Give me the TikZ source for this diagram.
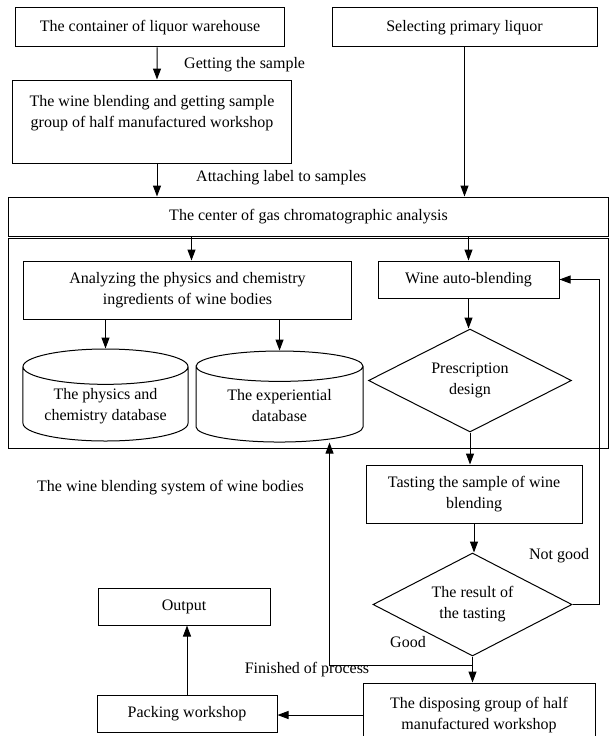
\documentclass[tikz,border=0pt]{standalone}
\usepackage{fontspec}
\setmainfont{Liberation Serif}
\usepackage{tikz}
\usetikzlibrary{shapes.geometric, arrows.meta, positioning, fit}
\newcommand{\flowfont}{\fontsize{16bp}{21bp}\selectfont}
\tikzstyle{module} = [rectangle, draw=black, line width=1bp, align=center, inner sep=2bp, font=\flowfont]
\tikzstyle{data} = [cylinder, shape border rotate=90, aspect=0.28, draw=black, line width=1bp, align=center, inner sep=2bp, font=\flowfont]
\tikzstyle{decision} = [diamond, aspect=2, draw=black, line width=1bp, align=center, inner sep=0pt, font=\flowfont]
\tikzstyle{lbl} = [inner sep=1bp, font=\flowfont]
\tikzstyle{sysframe} = [rectangle, draw=black, line width=1bp, inner sep=0pt]
\tikzstyle{arrow} = [line width=1bp, ->, >={Triangle[length=11bp,width=8bp]}]

\begin{document}
\begin{tikzpicture}[x=1bp, y=-1bp]
\useasboundingbox (0,0) rectangle (609,736);

% Sources and sampling
\node[module, minimum width=268bp, minimum height=39bp] (cont) at (150,27.5) {The container of liquor warehouse};
\node[module, minimum width=265bp, minimum height=39bp, right=47bp of cont] (select) {Selecting primary liquor};
\node[module, minimum width=278bp, minimum height=83bp, below=32bp of cont, xshift=2bp] (samp) {The wine blending and getting sample\\group of half manufactured workshop\\ \mbox{}};
\node[module, minimum width=599bp, minimum height=39bp, below=33bp of samp, xshift=156.5bp] (gc) {The center of gas chromatographic analysis};

% Blending system
\node[sysframe, fit={(8,238) (608,448)}] (sys) {};
\node[module, minimum width=327bp, minimum height=58bp, below=24bp of gc, xshift=-121bp] (phys) {Analyzing the physics and chemistry\\ingredients of wine bodies};
\node[module, minimum width=181bp, minimum height=37bp, below=24bp of gc, xshift=160bp] (auto) {Wine auto-blending};
\node[data, minimum width=165bp, minimum height=92bp, below=29bp of phys, xshift=-82bp] (physdb) {The physics and\\chemistry database};
\node[data, minimum width=167bp, minimum height=91bp, right=7bp of physdb] (expdb) {The experiential\\database};
\node[decision, minimum width=203bp, minimum height=103bp, below=30bp of auto, xshift=1.5bp] (presc) {Prescription\\design};

% Tasting and output
\node[module, minimum width=216bp, minimum height=58bp, below=32bp of presc, xshift=4bp] (taste) {Tasting the sample of wine\\blending};
\node[decision, minimum width=199bp, minimum height=103bp, below=29bp of taste, xshift=-1.5bp] (result) {The result of\\the tasting};
\node[module, minimum width=232bp, minimum height=64bp, below=26bp of result, xshift=6.5bp] (dispose) {The disposing group of half\\manufactured workshop};
\node[module, minimum width=180bp, minimum height=37bp, left=85bp of dispose, yshift=1.5bp] (pack) {Packing workshop};
\node[module, minimum width=172bp, minimum height=37bp, above=69bp of pack, xshift=-3bp] (output) {Output};

% Labels
\node[lbl, anchor=west] (lblget) at (183,65) {Getting the sample};
\node[lbl, anchor=west] (lblattach) at (195,178) {Attaching label to samples};
\node[lbl, anchor=west] (lblsys) at (36,488) {The wine blending system of wine bodies};
\node[lbl] (lblnot) at (559,556) {Not good};
\node[lbl] (lblgood) at (408,642) {Good};
\node[lbl] (lblfin) at (307,670) {Finished of process};

% Arrows
\draw[arrow] ([xshift=7bp]cont.south) -- ([xshift=5bp]samp.north);
\draw[arrow] ([xshift=5bp]samp.south) -- ([xshift=5bp]samp.south |- gc.north);
\draw[arrow] (select.south) -- (select.south |- gc.north);
\draw[arrow] ([xshift=4bp]phys.north |- gc.south) -- ([xshift=4bp]phys.north);
\draw[arrow] (gc.south -| auto.north) -- (auto.north);
\draw[arrow] (phys.south -| physdb.north) -- (physdb.north);
\draw[arrow] (phys.south -| expdb.north) -- (expdb.north);
\draw[arrow] (auto.south) -- (auto.south |- presc.north);
\draw[arrow] (presc.south) -- (presc.south |- taste.north);
\draw[arrow] (taste.south) -- (taste.south |- result.north);
\draw[arrow] (result.south) -- (result.south |- dispose.north);
\coordinate (goodturn) at ([yshift=-9bp]result.south);
\draw[arrow] (goodturn) -| ([xshift=50bp]expdb.south);
\draw[arrow] (result.east) -- ++(27,0) |- (auto.east);
\draw[arrow] (dispose.west) -- (dispose.west -| pack.east);
\draw[arrow] (pack.north) -- (pack.north |- output.south);

\end{tikzpicture}
\end{document}
